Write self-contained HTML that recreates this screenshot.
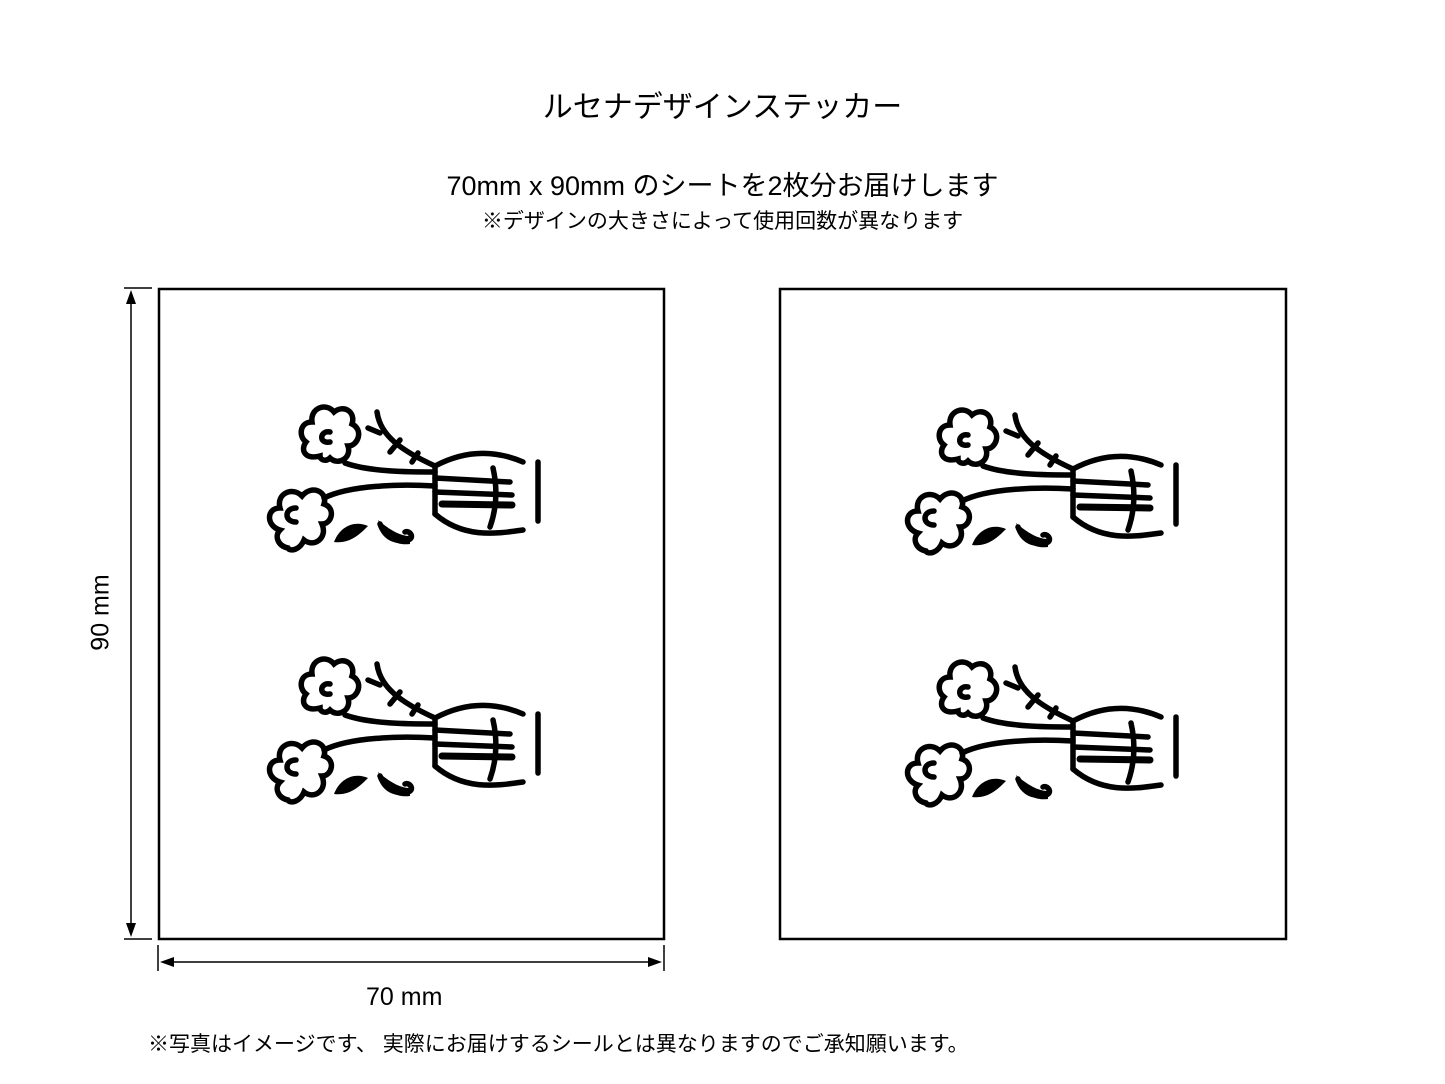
<!DOCTYPE html>
<html><head><meta charset="utf-8"><style>
body{margin:0;background:#fff;width:1445px;height:1084px;overflow:hidden;position:relative;font-family:"Liberation Sans","Noto Sans CJK JP",sans-serif;color:#000}
.t{position:absolute;white-space:nowrap}
</style></head><body>
<div class="t" style="left:0;width:1445px;text-align:center;top:82px;font-size:30px">ルセナデザインステッカー</div>
<div class="t" style="left:0;width:1445px;text-align:center;top:164px;font-size:27px">70mm x 90mm のシートを2枚分お届けします</div>
<div class="t" style="left:0;width:1445px;text-align:center;top:205px;font-size:21px">※デザインの大きさによって使用回数が異なります</div>
<div class="t" style="left:366px;top:983px;font-size:25px">70 mm</div>
<div class="t" style="left:46px;top:598px;font-size:25px;transform:rotate(-90deg);transform-origin:center;width:110px;text-align:center">90 mm</div>
<div class="t" style="left:148px;top:1028px;font-size:21px">※写真はイメージです、 実際にお届けするシールとは異なりますのでご承知願います。</div>
<svg width="1445" height="1084" style="position:absolute;left:0;top:0">
<defs>
<g id="f" fill="none" stroke="#000" stroke-width="5.5" stroke-linecap="round">
<path d="M60,56 C45,60 40,50 46,42 C38,36 40,22 52,22 C50,8 66,2 74,12 C84,4 96,12 92,24 C104,30 98,46 88,46 C92,58 78,66 70,58 C66,62 60,60 60,56Z"/>
<path d="M70,32 C60,30 58,44 70,42"/>
<path d="M28,148 C18,146 14,136 20,130 C6,126 6,108 20,108 C16,94 32,86 42,96 C52,84 68,92 64,104 C76,108 72,124 62,124 C68,138 54,148 44,140 C40,150 30,152 28,148Z"/>
<path d="M36,108 C24,108 24,122 36,122"/>
<path d="M85,63 C110,72 150,72 175,72"/>
<path d="M64,98 C90,85 140,84 175,86"/>
<path d="M175,66 C205,50 235,50 263,62"/>
<path d="M175,114 C205,140 240,133 263,130"/>
<path d="M175,66 L175,114"/>
<path d="M175,78 L250,82"/><path d="M175,92 L252,95"/><path d="M182,104 L252,105" stroke-width="7"/>
<path d="M233,68 C238,90 236,110 230,127"/>
<path d="M278,62 L278,121"/>
<path d="M117,12 C120,35 140,50 175,66"/>
<path d="M108,28 L120,33"/><path d="M140,40 L130,52"/><path d="M158,53 L152,62"/>
<path d="M120,124 C125,138 135,142 148,140 C155,138 150,130 145,132"/>
</g>
<g id="lf"><path d="M74,142 C80,126 95,120 108,126 C100,134 90,144 74,142Z" fill="#000"/><path d="M118,120 C130,130 140,136 150,136 L150,144 C135,146 125,138 118,120Z" fill="#000"/></g>
</defs>
<rect x="159" y="289" width="505" height="650" fill="none" stroke="#000" stroke-width="2.5"/>
<rect x="780" y="289" width="506" height="650" fill="none" stroke="#000" stroke-width="2.5"/>
<line x1="124" y1="288" x2="152" y2="288" stroke="#000" stroke-width="1.5"/>
<line x1="124" y1="939" x2="152" y2="939" stroke="#000" stroke-width="1.5"/>
<line x1="131" y1="296" x2="131" y2="931" stroke="#000" stroke-width="1.5"/>
<path d="M131,290 L126,304 L136,304Z"/><path d="M131,937 L126,923 L136,923Z"/>
<line x1="158" y1="945" x2="158" y2="971" stroke="#000" stroke-width="1.5"/>
<line x1="664" y1="945" x2="664" y2="971" stroke="#000" stroke-width="1.5"/>
<line x1="166" y1="962" x2="656" y2="962" stroke="#000" stroke-width="1.5"/>
<path d="M160,962 L174,957 L174,967Z"/><path d="M662,962 L648,957 L648,967Z"/>
<g transform="translate(260,400)"><use href="#f"/><use href="#lf"/></g>
<g transform="translate(260,652)"><use href="#f"/><use href="#lf"/></g>
<g transform="translate(898,403)"><use href="#f"/><use href="#lf"/></g>
<g transform="translate(898,655)"><use href="#f"/><use href="#lf"/></g>
</svg>
</body></html>
